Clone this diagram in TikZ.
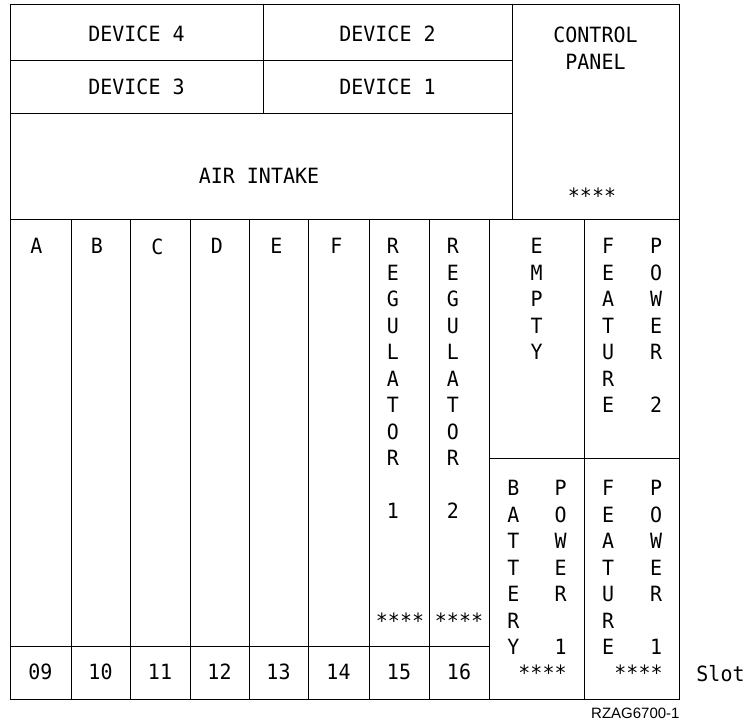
\documentclass[tikz,border=0pt]{standalone}
\usepackage{fontspec}
\setmainfont{Liberation Sans}
\newfontfamily\mono[FakeStretch=0.95]{DejaVu Sans Mono}
\begin{document}
\begin{tikzpicture}[x=1pt,y=-1pt,line width=0.9pt,
  lbl/.style={font=\mono\fontsize{21}{26.5}\selectfont,inner sep=0pt,anchor=base},
  vlbl/.style={font=\mono\fontsize{21}{26.5}\selectfont,inner sep=0pt,anchor=north,align=center}]
\useasboundingbox (0,0) rectangle (747,725);
% frame and grid
\draw (10,4) rectangle (679,699);
\draw (10,60) -- (512,60);
\draw (10,113) -- (512,113);
\draw (263,4) -- (263,113);
\draw (512,4) -- (512,219);
\draw (10,219) -- (679,219);
\foreach \xx in {71,130,190,249,308,369,429,489,584}
  \draw (\xx,219) -- (\xx,699);
\draw (10,646) -- (489,646);
\draw (489,458) -- (679,458);
% top labels
\node[lbl] (d4) at (136.5,42) {DEVICE 4};
\node[lbl] (d3) at (136.5,95) {DEVICE 3};
\node[lbl] (d2) at (387.5,42) {DEVICE 2};
\node[lbl] (d1) at (387.5,95) {DEVICE 1};
\node[lbl] (air) at (259,183) {AIR INTAKE};
\node[lbl] (cp1) at (595.5,43) {CONTROL};
\node[lbl] (cp2) at (595.5,70) {PANEL};
\node[lbl] (cpa) at (592,203) {****};
% letters
\node[vlbl] (la) at (36.5,238) {A};
\node[vlbl] (lb) at (97,238) {B};
\node[vlbl] (lc) at (157.5,238) {C};
\node[vlbl] (ld) at (217,238) {D};
\node[vlbl] (le) at (276.5,238) {E};
\node[vlbl] (lf) at (336.5,238) {F};
\node[vlbl] (reg1) at (393,238) {R\\E\\G\\U\\L\\A\\T\\O\\R\\ \\1};
\node[vlbl] (reg2) at (453,238) {R\\E\\G\\U\\L\\A\\T\\O\\R\\ \\2};
\node[lbl] (ra1) at (400,628) {****};
\node[lbl] (ra2) at (459,628) {****};
\node[vlbl] (empty) at (536.5,238) {E\\M\\P\\T\\Y};
\node[vlbl] (fe2) at (608,238) {F\\E\\A\\T\\U\\R\\E};
\node[vlbl] (pw2) at (656,238) {P\\O\\W\\E\\R\\ \\2};
\node[vlbl] (bat) at (513.3,480) {B\\A\\T\\T\\E\\R\\Y};
\node[vlbl] (pw1a) at (560.7,480) {P\\O\\W\\E\\R\\ \\1};
\node[vlbl] (fe1) at (608,480) {F\\E\\A\\T\\U\\R\\E};
\node[vlbl] (pw1b) at (656,480) {P\\O\\W\\E\\R\\ \\1};
\node[lbl] (ba) at (542.5,680) {****};
\node[lbl] (fa) at (638.5,680) {****};
% slot numbers
\node[lbl] (s09) at (40.5,679) {09};
\node[lbl] (s10) at (100.5,679) {10};
\node[lbl] (s11) at (160,679) {11};
\node[lbl] (s12) at (219.5,679) {12};
\node[lbl] (s13) at (278.5,679) {13};
\node[lbl] (s14) at (338.5,679) {14};
\node[lbl] (s15) at (399,679) {15};
\node[lbl] (s16) at (459,679) {16};
\node[lbl] (slot) at (720.5,681) {Slot};
\node[font=\fontsize{15}{18}\selectfont,inner sep=0pt,anchor=base east] (ref) at (680,718) {RZAG6700-1};
\end{tikzpicture}
\end{document}
